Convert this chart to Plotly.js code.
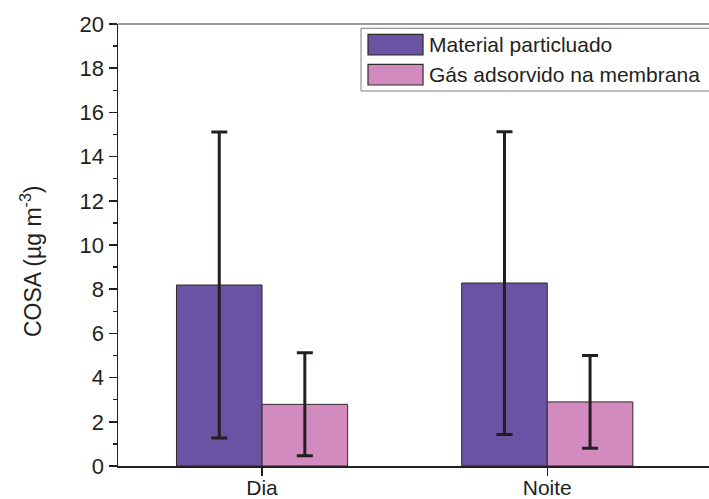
<!DOCTYPE html>
<html>
<head>
<meta charset="utf-8">
<script src="https://cdn.plot.ly/plotly-3.0.1.min.js"></script>
<style>html,body{margin:0;padding:0;background:#fff;}#chart{width:709px;height:499px;}</style>
</head>
<body>
<div id="chart"></div>
<script>
const categories = ["Dia", "Noite"];
const seriesNames = ["Material particluado", "Gás adsorvido na membrana"];
const particulateValues = [8.19, 8.28];
const particulateErrors = [6.92, 6.85];
const gasValues = [2.79, 2.90];
const gasErrors = [2.33, 2.10];
const yTickValues = [0, 2, 4, 6, 8, 10, 12, 14, 16, 18, 20];

const colors = ["#6b52a3", "#d38abe"];
const ink = "#231f20";
const FONT = "Liberation Sans, Arial, sans-serif";
const xRange = [-0.505, 1.567];

function barTrace(name, y, err, color) {
  return {
    type: "bar", x: categories, y: y, name: name,
    marker: {color: color, line: {color: "#2b2b2b", width: 1}},
    error_y: {type: "data", array: err, visible: true, color: ink, thickness: 3, width: 8},
    showlegend: false, hoverinfo: "x+y"
  };
}

const data = [
  barTrace(seriesNames[0], particulateValues, particulateErrors, colors[0]),
  barTrace(seriesNames[1], gasValues, gasErrors, colors[1])
];

// legend drawn as paper-positioned box, swatches and labels
const legX0 = 0.4112, swX0 = 0.4230, swX1 = 0.5161, txtX = 0.5235;
const rows = [{y0: 0.9299, y1: 0.9767, ty: 0.9532}, {y0: 0.8620, y1: 0.9088, ty: 0.8853}];

const shapes = [
  {type: "line", xref: "paper", yref: "paper", x0: 0, x1: 1.01, y0: 1, y1: 1,
   line: {color: "#7a7a7a", width: 1.5}},
  {type: "rect", xref: "paper", yref: "paper", x0: legX0, x1: 1.05, y0: 0.8484, y1: 0.9903,
   line: {color: "#7a7a7a", width: 1}, fillcolor: "rgba(255,255,255,0)"}
];
const annotations = [
  {xref: "paper", yref: "paper", x: -0.1472, y: 0.4638, textangle: -90, showarrow: false,
   text: "COSA (µg m<sup>-3</sup>)", font: {family: FONT, size: 23, color: ink},
   xanchor: "center", yanchor: "middle"}
];
seriesNames.forEach((n, i) => {
  shapes.push({type: "rect", xref: "paper", yref: "paper", x0: swX0, x1: swX1, y0: rows[i].y0, y1: rows[i].y1,
    line: {color: "#2b2b2b", width: 1.2}, fillcolor: colors[i]});
  annotations.push({xref: "paper", yref: "paper", x: txtX, y: rows[i].ty, xanchor: "left", yanchor: "middle",
    showarrow: false, text: n, font: {family: FONT, size: 21, color: ink}});
});

const layout = {
  width: 709, height: 499,
  margin: {l: 118, r: 0, t: 24, b: 33, pad: 0},
  paper_bgcolor: "#ffffff", plot_bgcolor: "#ffffff",
  barmode: "group", bargap: 0.4, bargroupgap: 0,
  font: {family: FONT, size: 21, color: ink},
  showlegend: false,
  xaxis: {
    type: "category", range: xRange, showgrid: false, zeroline: false,
    showline: true, linecolor: ink, linewidth: 1.5,
    ticks: "outside", ticklen: 8, tickwidth: 1.5, tickcolor: ink,
    ticklabelstandoff: -6,
    tickfont: {family: FONT, size: 21, color: ink}
  },
  xaxis2: {
    overlaying: "x", anchor: "y", side: "bottom", type: "linear", range: xRange,
    tickmode: "array", tickvals: [0.5], ticks: "outside", ticklen: 4, tickwidth: 1.5, tickcolor: ink,
    showticklabels: false, showline: false, showgrid: false, zeroline: false
  },
  yaxis: {
    range: [0, 20], tickmode: "array", tickvals: yTickValues,
    showgrid: false, zeroline: false, showline: true, linecolor: ink, linewidth: 1.5,
    ticks: "outside", ticklen: 8, tickwidth: 1.5, tickcolor: ink,
    minor: {dtick: 1, tick0: 0, ticks: "outside", ticklen: 4, tickwidth: 1.5, tickcolor: ink},
    tickfont: {family: FONT, size: 22, color: ink}
  },
  shapes: shapes,
  annotations: annotations
};

Plotly.newPlot("chart", data, layout, {staticPlot: true, displayModeBar: false});
</script>
</body>
</html>
